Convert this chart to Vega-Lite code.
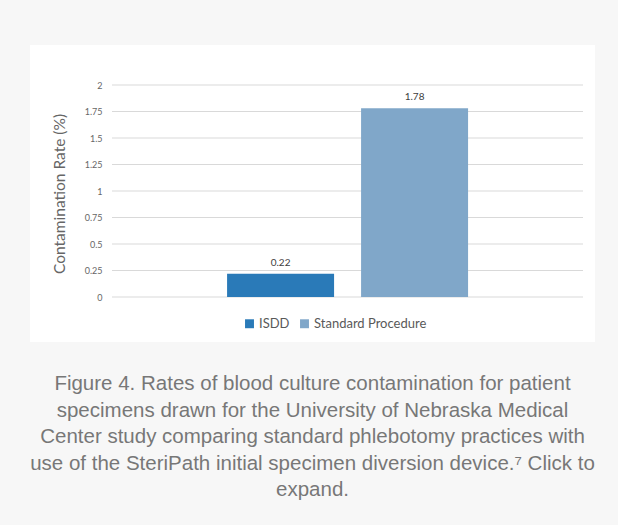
{
  "$schema": "https://vega.github.io/schema/vega-lite/v6.json",
  "width": 565,
  "height": 297,
  "autosize": {"type": "none"},
  "padding": {"left": 30, "top": 45, "right": 23, "bottom": 183},
  "background": "#f7f7f7",
  "config": {"view": {"fill": "white", "stroke": null}, "font": "Lato"},
  "title": {
    "text": [
      "Figure 4. Rates of blood culture contamination for patient",
      "specimens drawn for the University of Nebraska Medical",
      "Center study comparing standard phlebotomy practices with",
      "use of the SteriPath initial specimen diversion device.⁷ Click to",
      "expand."
    ],
    "orient": "bottom",
    "anchor": "middle",
    "frame": "group",
    "font": "Liberation Sans",
    "fontSize": 20.5,
    "fontWeight": "normal",
    "color": "#777777",
    "lineHeight": 26.5,
    "offset": 32
  },
  "datasets": {
    "bars": [
      {"series": "ISDD", "rate": 0.22},
      {"series": "Standard Procedure", "rate": 1.78}
    ],
    "grid": [
      {"rate": 0}, {"rate": 0.25}, {"rate": 0.5}, {"rate": 0.75}, {"rate": 1},
      {"rate": 1.25}, {"rate": 1.5}, {"rate": 1.75}, {"rate": 2}
    ]
  },
  "encoding": {
    "y": {
      "field": "rate",
      "type": "quantitative",
      "scale": {"domain": [-0.4245, 2.3774], "nice": false, "zero": false},
      "axis": {
        "orient": "left",
        "offset": -82,
        "values": [0, 0.25, 0.5, 0.75, 1, 1.25, 1.5, 1.75, 2],
        "labelExpr": "'' + datum.value",
        "labelOverlap": false,
        "labelBound": false,
        "grid": false,
        "domain": false,
        "ticks": false,
        "labelPadding": 10,
        "labelFontSize": 9,
        "labelColor": "#666666",
        "title": "Contamination Rate (%)",
        "titleFontSize": 15.5,
        "titleFontWeight": "normal",
        "titleColor": "#666666",
        "titlePadding": 17
      }
    }
  },
  "layer": [
    {
      "data": {"name": "grid"},
      "mark": {"type": "rule", "color": "#d9d9d9", "strokeWidth": 1},
      "encoding": {
        "x": {"datum": 0, "type": "quantitative", "scale": {"domain": [-0.1741, 1.0255], "nice": false, "zero": false}, "axis": null},
        "x2": {"datum": 1}
      }
    },
    {
      "data": {"name": "bars"},
      "encoding": {
        "x": {
          "field": "series",
          "type": "nominal",
          "scale": {"domain": ["", "ISDD", "Standard Procedure"], "paddingInner": 0.2015, "paddingOuter": 0.709, "align": 0.332},
          "axis": null
        }
      },
      "layer": [
        {
          "mark": {"type": "bar"},
          "encoding": {
            "y2": {"datum": 0},
            "color": {
              "field": "series",
              "type": "nominal",
              "scale": {"range": ["#2a7ab8", "#80a7c9"]},
              "legend": {
                "orient": "none",
                "legendX": 213,
                "legendY": 272,
                "direction": "horizontal",
                "columns": 2,
                "title": null,
                "symbolType": "square",
                "symbolSize": 80,
                "symbolStrokeWidth": 0,
                "labelFontSize": 13,
                "labelColor": "#595959",
                "labelOffset": 3,
                "columnPadding": 8,
                "padding": 0
              }
            }
          }
        },
        {
          "mark": {"type": "text", "baseline": "bottom", "dy": -6, "fontSize": 10, "color": "#404040"},
          "encoding": {"text": {"field": "rate", "type": "quantitative", "format": ".2f"}}
        }
      ]
    }
  ],
  "resolve": {"scale": {"x": "independent"}}
}
